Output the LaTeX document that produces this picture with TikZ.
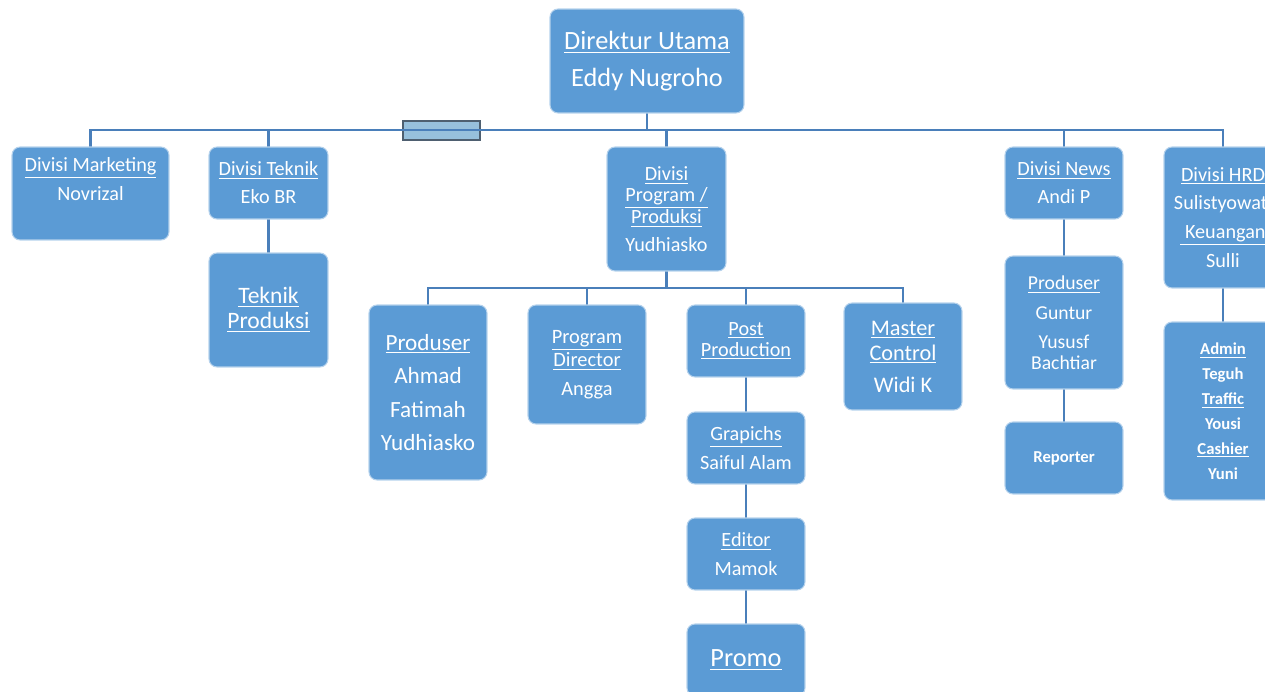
\documentclass[tikz,border=0pt]{standalone}
\usepackage{fontspec}
\setmainfont{Carlito}
\usetikzlibrary{calc}
\definecolor{boxblue}{HTML}{5B9BD5}
\definecolor{linkblue}{HTML}{4A7FBA}
\definecolor{asstfill}{HTML}{97C0DC}
\definecolor{asstdraw}{HTML}{4E5F70}
\newcommand\fs[2]{\fontsize{#1}{#2}\selectfont}
\tikzset{
box/.style={draw=white!55!boxblue,line width=0.6pt,fill=boxblue,text=white,rounded corners=0.16cm,align=center,inner sep=0pt},
conn/.style={draw=linkblue,line width=1.5pt,line cap=rect}
}
\pgfdeclarelayer{background}
\pgfsetlayers{background,main}

\begin{document}
\begin{tikzpicture}[x=0.02cm,y=-0.02cm]
\path[use as bounding box] (0,0) rectangle (1265,692);
\clip (0,0) rectangle (1265,692);
%%% direktur
\node[box,minimum width=3.88cm,minimum height=2.08cm,font=\fs{15}{21}] (dirut) at (647,61) {\underline{Direktur Utama}\\Eddy Nugroho};
\coordinate (bus) at (0,130);
\coordinate (subbus) at (0,288);
%%% divisi
\node[box,minimum width=3.14cm,minimum height=1.86cm,font=\fs{11.5}{16.4}] (mkt) at (90.5,193.5) {\underline{Divisi Marketing}\\Novrizal\\\mbox{}};
\node[box,minimum width=2.38cm,minimum height=1.44cm,font=\fs{11.5}{15.9}] (tek) at (268.5,183) {\underline{Divisi Teknik}\\Eko BR};
\node[box,minimum width=2.38cm,minimum height=2.28cm,font=\fs{13.4}{14.2}] (tekprod) at (268.5,310) {\underline{Teknik}\\\underline{Produksi}};
\node[box,minimum width=2.38cm,minimum height=2.48cm,font=\fs{11.5}{12.2}] (prog) at (666.5,209) {\underline{Divisi}\\\underline{Program /}\\\underline{Produksi}\\[3.7pt]Yudhiasko};
\node[box,minimum width=2.36cm,minimum height=1.44cm,font=\fs{11.5}{15.9}] (news) at (1064,183) {\underline{Divisi News}\\Andi P};
\node[box,minimum width=2.36cm,minimum height=2.82cm,font=\fs{11.5}{16.4}] (hrd) at (1223,217.5) {\underline{Divisi HRD}\\Sulistyowati\\\underline{\ Keuangan}\\Sulli};
%%% program / produksi
\node[box,minimum width=2.36cm,minimum height=3.5cm,font=\fs{13.2}{19.1}] (prod) at (428,392.5) {\underline{Produser}\\Ahmad\\Fatimah\\Yudhiasko};
\node[box,minimum width=2.36cm,minimum height=2.38cm,font=\fs{11.6}{11.9}] (pd) at (587,364.5) {\underline{Program}\\\underline{Director}\\[4.5pt]Angga};
\node[box,minimum width=2.36cm,minimum height=1.44cm,font=\fs{11.5}{11.9}] (post) at (746,341) {\underline{Post}\\\underline{Production}};
\node[box,minimum width=2.36cm,minimum height=2.14cm,font=\fs{12.7}{14.2}] (mc) at (903,356.5) {\underline{Master}\\\underline{Control}\\[4pt]Widi K};
\node[box,minimum width=2.36cm,minimum height=1.44cm,font=\fs{11.5}{16.4}] (graf) at (746,448) {\underline{Grapichs}\\Saiful Alam};
\node[box,minimum width=2.36cm,minimum height=1.44cm,font=\fs{11.5}{16.4}] (edit) at (746,554) {\underline{Editor}\\Mamok};
\node[box,minimum width=2.36cm,minimum height=1.44cm,font=\fs{15}{18}] (promo) at (746,660) {\underline{Promo}};
%%% news & hrd
\node[box,minimum width=2.36cm,minimum height=2.66cm,font=\fs{11.2}{11.9}] (newsprod) at (1064,322.5) {\underline{Produser}\\[5.1pt]Guntur\\[4.5pt]Yususf\\Bachtiar};
\node[box,minimum width=2.36cm,minimum height=1.44cm,font=\bfseries\fs{9.5}{12}] (rep) at (1064,458) {Reporter};
\node[box,minimum width=2.36cm,minimum height=3.56cm,font=\bfseries\fs{9.5}{14.2}] (adm) at (1223,411) {\underline{Admin}\\Teguh\\\underline{Traffic}\\Yousi\\\underline{Cashier}\\Yuni};
%%% garis
\begin{pgfonlayer}{background}
\node[draw=asstdraw,fill=asstfill,line width=1.3pt,minimum width=1.54cm,minimum height=0.38cm,inner sep=0pt] (asst) at (441.5,130.5) {};
\draw[conn] (dirut.south) -- (dirut.south |- bus);
\draw[conn] (mkt.north |- bus) -- (hrd.north |- bus);
\foreach \n in {mkt,tek,prog,news,hrd}
  \draw[conn] (\n.north) -- (\n.north |- bus);
\draw[conn] (prog.south) -- (prog.south |- subbus);
\draw[conn] (prod.north |- subbus) -- (mc.north |- subbus);
\foreach \n in {prod,pd,post,mc}
  \draw[conn] (\n.north) -- (\n.north |- subbus);
\foreach \a/\b in {tek/tekprod,post/graf,graf/edit,edit/promo,news/newsprod,newsprod/rep,hrd/adm}
  \draw[conn] (\a) -- (\b);
\end{pgfonlayer}
\end{tikzpicture}
\end{document}
